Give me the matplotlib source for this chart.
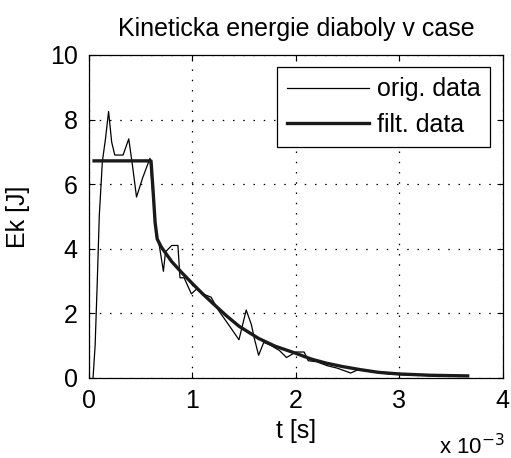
import matplotlib
matplotlib.use('Agg')
import matplotlib.pyplot as plt

# time in units of 1e-3 s, energy in J
T_ORIG = [0.04, 0.06, 0.08, 0.10, 0.13, 0.16, 0.19, 0.22, 0.25, 0.33,
          0.385, 0.42, 0.46, 0.52, 0.59, 0.62, 0.65, 0.68, 0.72, 0.74,
          0.80, 0.86, 0.88, 0.92, 0.99, 1.04, 1.10, 1.18, 1.25, 1.36,
          1.45, 1.52, 1.57, 1.60, 1.64, 1.69, 1.76, 1.84, 1.91, 2.00,
          2.08, 2.12, 2.20, 2.30, 2.40, 2.53, 2.60, 2.75, 2.90, 3.00,
          3.30, 3.66]
E_ORIG = [0.0, 1.0, 2.9, 5.0, 6.7, 7.4, 8.25, 7.3, 6.9, 6.9,
          7.4, 6.6, 5.6, 6.2, 6.8, 5.6, 4.4, 4.1, 3.3, 3.9,
          4.1, 4.1, 3.1, 3.1, 2.6, 2.75, 2.6, 2.5, 2.1, 1.6,
          1.18, 2.1, 1.65, 1.2, 0.7, 1.1, 1.0, 0.85, 0.63, 0.8,
          0.8, 0.53, 0.5, 0.38, 0.3, 0.15, 0.25, 0.18, 0.12, 0.1,
          0.07, 0.05]

T_FILT = [0.05, 0.60, 0.62, 0.64, 0.66, 0.70, 0.80, 0.90, 1.00, 1.10,
          1.20, 1.33, 1.45, 1.64, 1.80, 2.00, 2.15, 2.30, 2.45, 2.63,
          2.80, 3.00, 3.30, 3.66]
E_FILT = [6.72, 6.72, 5.8, 4.8, 4.3, 4.05, 3.6, 3.25, 2.92, 2.6,
          2.3, 1.92, 1.6, 1.22, 0.98, 0.76, 0.58, 0.45, 0.35, 0.25,
          0.17, 0.12, 0.08, 0.06]

X_TICKS = [0, 1, 2, 3, 4]
Y_TICKS = [0, 2, 4, 6, 8, 10]

plt.rcParams['font.family'] = ['Liberation Sans', 'DejaVu Sans']
plt.rcParams['mathtext.fontset'] = 'custom'
plt.rcParams['mathtext.rm'] = 'Liberation Sans'
FS = 18

fig = plt.figure(figsize=(5.11, 4.58), dpi=100)
ax = fig.add_axes([0.174, 0.175, 0.81, 0.705])

ax.plot(T_ORIG, E_ORIG, color='black', lw=0.9, label='orig. data')
ax.plot(T_FILT, E_FILT, color='#1a1a1a', lw=2.4, label='filt. data')

ax.set_xlim(0, 4)
ax.set_ylim(0, 10)
ax.set_xticks(X_TICKS)
ax.set_yticks(Y_TICKS)
ax.tick_params(direction='in', length=4, width=0.8, top=True, right=True,
               pad=8, labelsize=FS)
ax.grid(True, color='black', linestyle=(0, (1.2, 7)), lw=0.9)
for s in ax.spines.values():
    s.set_linewidth(0.9)

ax.set_title('Kineticka energie diaboly v case', fontsize=FS, pad=14)
ax.set_xlabel('t [s]', fontsize=FS, labelpad=4)
ax.set_ylabel('Ek [J]', fontsize=FS, va='center')
ax.yaxis.set_label_coords(-0.172, 0.5)

fig.text(0.86, 0.008, r'x 10$^{\mathsf{-3}}$', fontsize=16)

leg = ax.legend(loc='upper right', fancybox=False, framealpha=1,
                edgecolor='black', handlelength=3.3, handletextpad=0.3,
                borderaxespad=0.5, labelspacing=0.45, borderpad=0.4,
                fontsize=FS)
leg.get_frame().set_linewidth(0.9)

fig.savefig('out.png', dpi=100)
